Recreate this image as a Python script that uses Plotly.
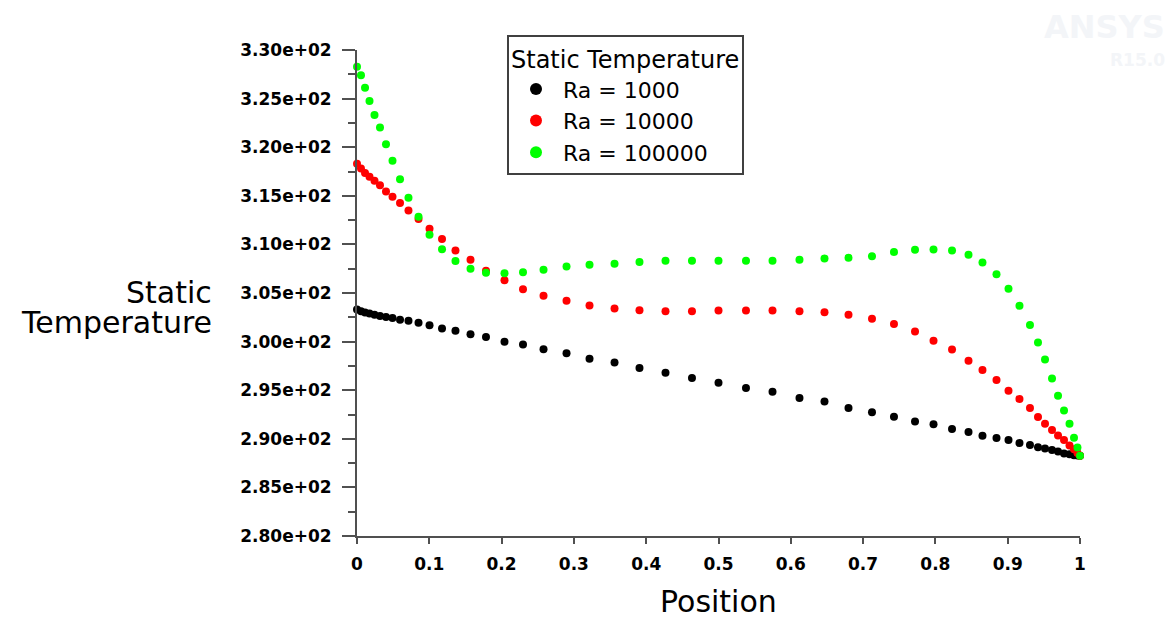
import plotly.graph_objects as go

# ---------------- data ----------------
position = [0.0, 0.0055, 0.0111, 0.0173, 0.0242, 0.0318, 0.0401, 0.0491, 0.0595, 0.0712,
            0.0851, 0.1003, 0.1176, 0.1362, 0.1570, 0.1784, 0.2040, 0.2296, 0.2580, 0.2898,
            0.3216, 0.3562, 0.3907, 0.4267, 0.4633, 0.5000, 0.5380, 0.5747, 0.6120, 0.6466,
            0.6798, 0.7123, 0.7427, 0.7718, 0.7974, 0.8230, 0.8458, 0.8651, 0.8845, 0.9011,
            0.9163, 0.9308, 0.9419, 0.9516, 0.9613, 0.9696, 0.9779, 0.9855, 0.9917, 0.9965, 1.0]

temp_ra1000 = [303.30, 303.12, 303.00, 302.89, 302.76, 302.64, 302.52, 302.42, 302.26, 302.14,
               301.94, 301.68, 301.36, 301.12, 300.76, 300.47, 299.98, 299.69, 299.22, 298.80,
               298.24, 297.86, 297.28, 296.80, 296.26, 295.77, 295.23, 294.84, 294.20, 293.84,
               293.16, 292.72, 292.27, 291.79, 291.50, 291.00, 290.69, 290.32, 290.07, 289.88,
               289.56, 289.36, 289.12, 289.00, 288.84, 288.70, 288.50, 288.40, 288.32, 288.28, 288.25]

temp_ra10000 = [318.30, 317.80, 317.35, 316.95, 316.55, 316.08, 315.45, 314.90, 314.25, 313.50,
                312.62, 311.60, 310.55, 309.37, 308.42, 307.30, 306.30, 305.39, 304.71, 304.20,
                303.71, 303.40, 303.23, 303.12, 303.12, 303.20, 303.20, 303.20, 303.12, 303.02,
                302.75, 302.34, 301.82, 301.03, 300.10, 299.18, 298.04, 297.08, 296.05, 294.95,
                294.10, 293.16, 292.25, 291.55, 290.90, 290.35, 289.88, 289.32, 288.93, 288.55, 288.25]

temp_ra100000 = [328.28, 327.40, 326.11, 324.75, 323.30, 322.03, 320.30, 318.60, 316.70, 314.80,
                 312.85, 311.00, 309.50, 308.28, 307.49, 307.08, 307.04, 307.14, 307.39, 307.73,
                 307.91, 308.01, 308.18, 308.32, 308.32, 308.32, 308.32, 308.32, 308.42, 308.56,
                 308.63, 308.79, 309.21, 309.45, 309.48, 309.38, 308.94, 308.14, 306.94, 305.43,
                 303.68, 301.72, 299.90, 298.15, 296.20, 294.43, 292.90, 291.55, 290.10, 289.10, 288.25]

series_names = ["Ra = 1000", "Ra = 10000", "Ra = 100000"]
series_colors = ["#000000", "#ff0000", "#00ff00"]

x_tick_vals = [0, 0.1, 0.2, 0.3, 0.4, 0.5, 0.6, 0.7, 0.8, 0.9, 1]
x_tick_text = ["0", "0.1", "0.2", "0.3", "0.4", "0.5", "0.6", "0.7", "0.8", "0.9", "1"]
y_tick_vals = [280, 285, 290, 295, 300, 305, 310, 315, 320, 325, 330]
y_tick_text = ["2.80e+02", "2.85e+02", "2.90e+02", "2.95e+02", "3.00e+02", "3.05e+02",
               "3.10e+02", "3.15e+02", "3.20e+02", "3.25e+02", "3.30e+02"]

# ---------------- figure ----------------
W, H = 1171, 619
L, R, T, B = 357, 91, 50, 83
PW, PH = W - L - R, H - T - B

fig = go.Figure()
for ys, name, col in zip([temp_ra1000, temp_ra10000, temp_ra100000], series_names, series_colors):
    fig.add_trace(go.Scatter(
        x=position, y=ys, mode="markers", name=name,
        marker=dict(color=col, size=8, symbol="circle", line=dict(width=0)),
        cliponaxis=False,
    ))

axis_col = "#505050"
tick_font = dict(family="DejaVu Sans", size=17, color="#000000", weight="bold")

fig.update_layout(
    width=W, height=H,
    margin=dict(l=L, r=R, t=T, b=B, pad=0),
    paper_bgcolor="white", plot_bgcolor="white",
    showlegend=True,
    legend=dict(
        title=dict(text="Static Temperature", font=dict(family="DejaVu Sans", size=24, color="black")),
        font=dict(family="DejaVu Sans", size=22, color="black"),
        x=(507 - L) / PW, y=(H - B - 35) / PH, xanchor="left", yanchor="top",
        bordercolor="#404040", borderwidth=2, bgcolor="white",
        tracegroupgap=0, itemsizing="constant", itemwidth=44,
    ),
    xaxis=dict(
        range=[0, 1], showgrid=False, zeroline=False,
        showline=True, linecolor=axis_col, linewidth=2,
        ticks="outside", ticklen=6, tickwidth=1.5, tickcolor=axis_col,
        tickvals=x_tick_vals, ticktext=x_tick_text, tickfont=tick_font,
        ticklabelstandoff=6,
    ),
    yaxis=dict(
        range=[280, 330], showgrid=False, zeroline=False,
        showline=True, linecolor=axis_col, linewidth=2,
        ticks="outside", ticklen=13, tickwidth=1.5, tickcolor=axis_col,
        tickvals=y_tick_vals, ticktext=y_tick_text, tickfont=tick_font,
        ticklabelstandoff=7,
        minor=dict(dtick=2.5, tick0=280, ticks="outside", ticklen=7, tickwidth=1.5, tickcolor=axis_col),
    ),
    annotations=[
        dict(text="Position", xref="paper", yref="paper", x=0.5, y=(H - B - 601) / PH,
             xanchor="center", yanchor="middle", showarrow=False,
             font=dict(family="DejaVu Sans", size=30, color="black")),
        dict(text="Static", xref="paper", yref="paper", x=(214 - L) / PW, y=(H - B - 292) / PH,
             xanchor="right", yanchor="middle", showarrow=False,
             font=dict(family="DejaVu Sans", size=30, color="black")),
        dict(text="Temperature", xref="paper", yref="paper", x=(214 - L) / PW, y=(H - B - 322) / PH,
             xanchor="right", yanchor="middle", showarrow=False,
             font=dict(family="DejaVu Sans", size=30, color="black")),
        dict(text="ANSYS", xref="paper", yref="paper", x=(1167 - L) / PW, y=(H - B - 27) / PH,
             xanchor="right", yanchor="middle", showarrow=False,
             font=dict(family="DejaVu Sans", size=32, color="#f3f5f8", weight="bold")),
        dict(text="R15.0", xref="paper", yref="paper", x=(1167 - L) / PW, y=(H - B - 60) / PH,
             xanchor="right", yanchor="middle", showarrow=False,
             font=dict(family="DejaVu Sans", size=17, color="#f3f5f8", weight="bold")),
    ],
)

fig.write_html("out.html", config={"displayModeBar": False},
               post_script="document.body.style.margin='0';")
